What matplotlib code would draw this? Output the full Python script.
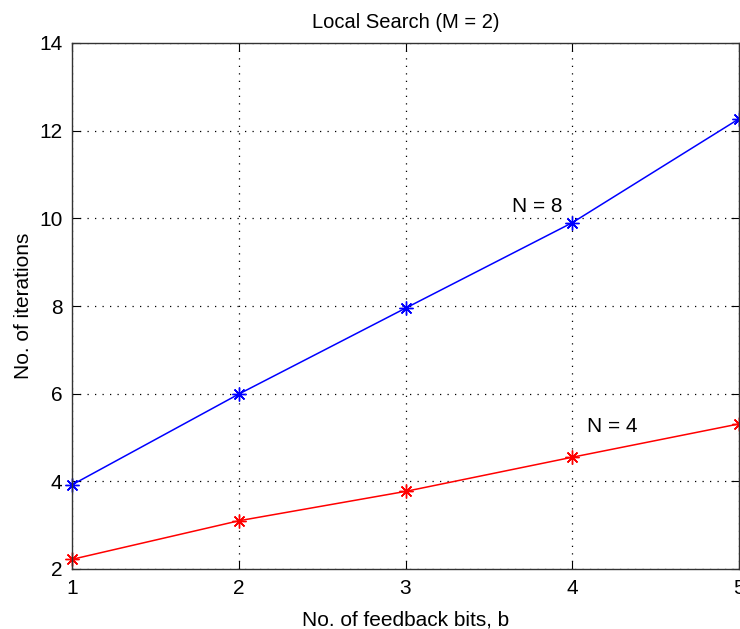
"""
Local search iterations vs. feedback bits
"""
from matplotlib import pyplot as plt

plt.rcParams['font.family'] = ['Liberation Sans', 'DejaVu Sans']

# data
bits = [1, 2, 3, 4, 5]
iters_N8 = [3.92, 5.99, 7.95, 9.90, 12.27]
iters_N4 = [2.22, 3.10, 3.77, 4.55, 5.31]

fig = plt.figure(figsize=(7.40, 6.29), dpi=100)
ax = fig.add_axes([72/740, 1 - 569/629, (739-72)/740, (569-43)/629])

star = (8, 2, 0)  # matlab-like asterisk
ax.plot(bits, iters_N8, color='blue', marker=star, markersize=10, mew=1.0, lw=1.1, clip_on=False)
ax.plot(bits, iters_N4, color='red', marker=star, markersize=10, mew=1.0, lw=1.1, clip_on=False)

ax.text(3.79, 10.26, 'N = 8', fontsize=15, ha='center', va='center')
ax.text(4.24, 5.24, 'N = 4', fontsize=15, ha='center', va='center')

ax.set_xlim(1, 5)
ax.set_ylim(2, 14)
ax.set_xticks(bits)
ax.set_yticks(range(2, 15, 2))
ax.grid(True, color='black', linestyle=(0, (1, 5)), linewidth=0.9)
ax.tick_params(direction='in', labelsize=15, length=6, pad=7, top=True, right=True)
for s in ax.spines.values():
    s.set_color('#333333')
    s.set_linewidth(1.0)

ax.set_title('Local Search (M = 2)', fontsize=14.5, pad=11)
ax.set_xlabel('No. of feedback bits, b', fontsize=15, labelpad=9)
ax.set_ylabel('No. of iterations', fontsize=15, labelpad=4)

fig.savefig('out.png', dpi=100)
